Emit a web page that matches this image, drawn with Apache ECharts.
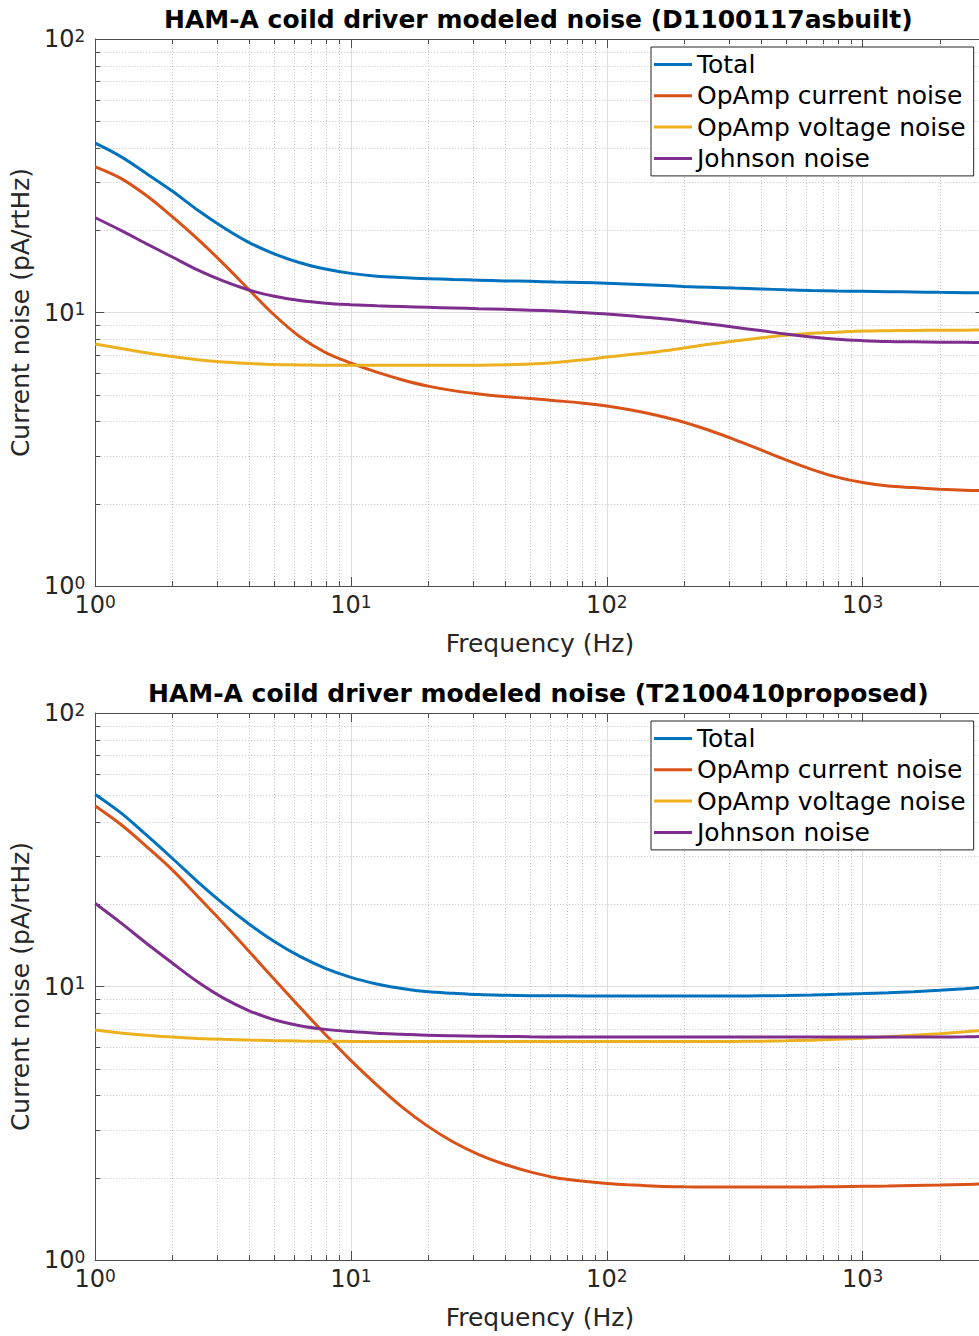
<!DOCTYPE html>
<html>
<head>
<meta charset="utf-8">
<script src="https://cdn.jsdelivr.net/npm/echarts@6/dist/echarts.min.js"></script>
<style>
  html, body { margin: 0; padding: 0; overflow: hidden; background: #ffffff; }
  #chart { width: 1000px; height: 1336px; }
</style>
</head>
<body>
<div id="chart"></div>
<script>
// Frequency points (Hz), ten per decade, shared by every curve
const freqHz = [1, 1.26, 1.58, 2, 2.51, 3.16, 3.98, 5.01, 6.31, 7.94,
                10, 12.6, 15.8, 20, 25.1, 31.6, 39.8, 50.1, 63.1, 79.4,
                100, 126, 158, 200, 251, 316, 398, 501, 631, 794,
                1000, 1260, 1580, 2000, 2510, 3160];

// D1100117 as built (pA/rtHz)
const asbuiltTotal   = [41.6, 37.15, 32.3, 27.8, 23.7, 20.5, 18.05, 16.39, 15.2, 14.42,
                        13.9, 13.58, 13.42, 13.3, 13.2, 13.13, 13.05, 13.0, 12.93, 12.87,
                        12.8, 12.69, 12.58, 12.45, 12.37, 12.28, 12.2, 12.1, 12.03, 11.98,
                        11.95, 11.92, 11.89, 11.85, 11.82, 11.79];
const asbuiltCurrent = [34.1, 30.94, 26.82, 22.41, 18.58, 15.12, 12.15, 9.79, 8.15, 7.14,
                        6.53, 6.05, 5.68, 5.38, 5.18, 5.04, 4.93, 4.85, 4.76, 4.67,
                        4.55, 4.39, 4.2, 3.97, 3.71, 3.43, 3.15, 2.89, 2.67, 2.5,
                        2.39, 2.32, 2.29, 2.26, 2.24, 2.23];
const asbuiltVoltage = [7.67, 7.39, 7.13, 6.9, 6.72, 6.59, 6.51, 6.45, 6.43, 6.41,
                        6.41, 6.41, 6.41, 6.41, 6.41, 6.42, 6.44, 6.48, 6.57, 6.7,
                        6.87, 7.03, 7.19, 7.41, 7.65, 7.87, 8.07, 8.26, 8.39, 8.47,
                        8.55, 8.58, 8.6, 8.61, 8.62, 8.63];
const asbuiltJohnson = [22.2, 19.96, 17.87, 15.96, 14.32, 13.04, 12.09, 11.46, 11.06, 10.82,
                        10.68, 10.58, 10.51, 10.445, 10.385, 10.325, 10.27, 10.2, 10.12, 10.01,
                        9.87, 9.7, 9.53, 9.31, 9.08, 8.83, 8.59, 8.34, 8.13, 7.98,
                        7.89, 7.83, 7.81, 7.79, 7.78, 7.77];

// T2100410 proposed (pA/rtHz)
const proposedTotal   = [50.4, 43.15, 35.89, 29.44, 24.18, 20.09, 16.96, 14.6, 12.88, 11.65,
                         10.8, 10.22, 9.83, 9.56, 9.44, 9.34, 9.29, 9.26, 9.245, 9.24,
                         9.235, 9.235, 9.235, 9.235, 9.235, 9.235, 9.25, 9.27, 9.31, 9.36,
                         9.42, 9.49, 9.57, 9.68, 9.82, 9.98];
const proposedCurrent = [45.7, 39.1, 32.6, 26.7, 21.4, 17.06, 13.49, 10.62, 8.39, 6.68,
                         5.36, 4.37, 3.63, 3.08, 2.7, 2.43, 2.24, 2.1, 2.0, 1.945,
                         1.905, 1.88, 1.862, 1.853, 1.849, 1.847, 1.847, 1.847, 1.849, 1.854,
                         1.86, 1.865, 1.872, 1.88, 1.89, 1.9];
const proposedVoltage = [6.93, 6.76, 6.63, 6.53, 6.46, 6.41, 6.37, 6.34, 6.32, 6.305,
                         6.3, 6.29, 6.29, 6.29, 6.29, 6.29, 6.29, 6.29, 6.29, 6.29,
                         6.29, 6.29, 6.29, 6.29, 6.29, 6.3, 6.31, 6.33, 6.36, 6.41,
                         6.47, 6.55, 6.63, 6.72, 6.83, 6.95];
const proposedJohnson = [20.1, 17.08, 14.42, 12.19, 10.41, 9.09, 8.17, 7.56, 7.19, 6.97,
                         6.84, 6.75, 6.69, 6.63, 6.6, 6.58, 6.57, 6.55, 6.54, 6.54,
                         6.54, 6.54, 6.54, 6.54, 6.54, 6.54, 6.54, 6.54, 6.54, 6.54,
                         6.54, 6.54, 6.54, 6.54, 6.55, 6.57];

const seriesNames = ['Total', 'OpAmp current noise', 'OpAmp voltage noise', 'Johnson noise'];
const seriesColors = ['#0072BD', '#D95319', '#EDB120', '#7E2F8E'];

const panelTitles = [
  'HAM-A coild driver modeled noise (D1100117asbuilt)',
  'HAM-A coild driver modeled noise (T2100410proposed)'
];
const xAxisTitle = 'Frequency (Hz)';
const yAxisTitle = 'Current noise (pA/rtHz)';

const xRange = [1, 3000];
const yRange = [1, 100];

const FONT = '"DejaVu Sans", sans-serif';
const AXIS_COLOR = '#4d4d4d';
const TEXT_COLOR = '#262626';
const MAJOR_GRID = '#dedede';
const MINOR_GRID = '#c4c4c4';

// minor tick positions (2..9 times each decade) inside a range
function minorTicks(lo, hi) {
  const out = [];
  for (let d = lo; d < hi; d *= 10) {
    for (let k = 2; k <= 9; k++) {
      const v = k * d;
      if (v < hi) out.push(v);
    }
  }
  return out;
}
const minorX = minorTicks(xRange[0], xRange[1]);
const minorY = minorTicks(yRange[0], yRange[1]);

function decadeLabel(v) {
  const lg = Math.log10(v);
  const e = Math.round(lg);
  if (Math.abs(lg - e) > 1e-6) return '';
  return '{b|10}{s|' + e + '}';
}

const tickRich = {
  b: { fontFamily: FONT, fontSize: 24, lineHeight: 24, color: TEXT_COLOR, padding: [8, 0, 0, 0], verticalAlign: 'bottom' },
  s: { fontFamily: FONT, fontSize: 17, lineHeight: 17, color: TEXT_COLOR, verticalAlign: 'top' }
};

const panelTops = [39, 713];
const plotLeft = 92;
const plotWidth = 892.6;
const plotHeight = 547;

const grids = panelTops.map(t => ({ left: plotLeft, top: t, width: plotWidth, height: plotHeight, show: false }));

function mainX(gridIndex) {
  return {
    type: 'log', logBase: 10, gridIndex, min: xRange[0], max: xRange[1], interval: 1,
    position: 'bottom',
    name: xAxisTitle, nameLocation: 'middle', nameGap: 45,
    nameTextStyle: { fontFamily: FONT, fontSize: 25, color: TEXT_COLOR },
    axisLine: { show: true, lineStyle: { color: AXIS_COLOR, width: 1 } },
    axisTick: { show: true, inside: true, length: 9, lineStyle: { color: AXIS_COLOR } },
    axisLabel: { show: true, interval: 0, margin: 7, formatter: decadeLabel, rich: tickRich, showMaxLabel: true, showMinLabel: true },
    splitLine: { show: true, lineStyle: { color: MAJOR_GRID, width: 1 } }
  };
}
function topX(gridIndex) {
  return {
    type: 'log', logBase: 10, gridIndex, min: xRange[0], max: xRange[1], interval: 1,
    position: 'top',
    axisLine: { show: true, lineStyle: { color: AXIS_COLOR, width: 1 } },
    axisTick: { show: true, inside: true, length: 9, lineStyle: { color: AXIS_COLOR } },
    axisLabel: { show: false },
    splitLine: { show: false }
  };
}
function mainY(gridIndex) {
  return {
    type: 'log', logBase: 10, gridIndex, min: yRange[0], max: yRange[1], interval: 1,
    position: 'left',
    name: yAxisTitle, nameLocation: 'middle', nameGap: 50, nameRotate: 90,
    nameTextStyle: { fontFamily: FONT, fontSize: 25, color: TEXT_COLOR },
    axisLine: { show: true, lineStyle: { color: AXIS_COLOR, width: 1 } },
    axisTick: { show: true, inside: true, length: 9, lineStyle: { color: AXIS_COLOR } },
    axisLabel: { show: true, interval: 0, margin: 10, formatter: decadeLabel, rich: tickRich, showMaxLabel: true, showMinLabel: true },
    splitLine: { show: true, lineStyle: { color: MAJOR_GRID, width: 1 } }
  };
}
function rightY(gridIndex) {
  return {
    type: 'log', logBase: 10, gridIndex, min: yRange[0], max: yRange[1], interval: 1,
    position: 'right',
    axisLine: { show: true, lineStyle: { color: AXIS_COLOR, width: 1 } },
    axisTick: { show: true, inside: true, length: 9, lineStyle: { color: AXIS_COLOR } },
    axisLabel: { show: false },
    splitLine: { show: false }
  };
}

// dotted minor grid lines with short inward ticks on both edges
function minorXItem(params, api) {
  const cs = params.coordSys;
  const x = Math.round(api.coord([api.value(0), api.value(1)])[0]) + 0.5;
  const top = cs.y, bottom = cs.y + cs.height;
  return { type: 'group', children: [
    { type: 'line', shape: { x1: x, y1: top, x2: x, y2: bottom }, style: { stroke: MINOR_GRID, lineWidth: 1, lineDash: [1, 2] } },
    { type: 'line', shape: { x1: x, y1: bottom, x2: x, y2: bottom - 5 }, style: { stroke: AXIS_COLOR, lineWidth: 1 } },
    { type: 'line', shape: { x1: x, y1: top, x2: x, y2: top + 5 }, style: { stroke: AXIS_COLOR, lineWidth: 1 } }
  ]};
}
function minorYItem(params, api) {
  const cs = params.coordSys;
  const y = Math.round(api.coord([api.value(0), api.value(1)])[1]) + 0.5;
  const left = cs.x, right = cs.x + cs.width;
  return { type: 'group', children: [
    { type: 'line', shape: { x1: left, y1: y, x2: right, y2: y }, style: { stroke: MINOR_GRID, lineWidth: 1, lineDash: [1, 2] } },
    { type: 'line', shape: { x1: left, y1: y, x2: left + 5, y2: y }, style: { stroke: AXIS_COLOR, lineWidth: 1 } },
    { type: 'line', shape: { x1: right, y1: y, x2: right - 5, y2: y }, style: { stroke: AXIS_COLOR, lineWidth: 1 } }
  ]};
}

const panelData = [
  [asbuiltTotal, asbuiltCurrent, asbuiltVoltage, asbuiltJohnson],
  [proposedTotal, proposedCurrent, proposedVoltage, proposedJohnson]
];

const xAxes = [], yAxes = [], series = [], legends = [], graphics = [];
panelTops.forEach((t, g) => {
  xAxes.push(mainX(g), topX(g));
  yAxes.push(mainY(g), rightY(g));
  const xi = 2 * g, yi = 2 * g;
  series.push({
    type: 'custom', xAxisIndex: xi, yAxisIndex: yi, silent: true, clip: false, z: 1,
    renderItem: minorXItem, data: minorX.map(v => [v, yRange[0]])
  });
  series.push({
    type: 'custom', xAxisIndex: xi, yAxisIndex: yi, silent: true, clip: false, z: 1,
    renderItem: minorYItem, data: minorY.map(v => [xRange[0], v])
  });
  panelData[g].forEach((vals, k) => {
    series.push({
      name: seriesNames[k], type: 'line', xAxisIndex: xi, yAxisIndex: yi, z: 3,
      showSymbol: false, symbol: 'none', smooth: 0.35, clip: true,
      lineStyle: { color: seriesColors[k], width: 3 },
      itemStyle: { color: seriesColors[k] },
      data: freqHz.map((f, i) => [f, vals[i]])
    });
  });
  legends.push({
    data: seriesNames, orient: 'vertical', left: 651, top: t + 8,
    icon: 'rect', itemWidth: 38, itemHeight: 3, itemGap: 6.3,
    padding: [5, 8, 5, 3],
    backgroundColor: '#ffffff', borderColor: '#262626', borderWidth: 1,
    textStyle: { fontFamily: FONT, fontSize: 25, lineHeight: 25, color: '#000000' },
    selectedMode: false
  });
  graphics.push({
    type: 'text', x: plotLeft + plotWidth / 2, y: t - 20, silent: true,
    style: { text: panelTitles[g], font: 'bold 25px ' + FONT, fill: '#000000',
             textAlign: 'center', textVerticalAlign: 'middle', align: 'center', verticalAlign: 'middle' }
  });
});

const chart = echarts.init(document.getElementById('chart'), null, { renderer: 'svg' });
chart.setOption({
  animation: false,
  backgroundColor: '#ffffff',
  grid: grids,
  xAxis: xAxes,
  yAxis: yAxes,
  legend: legends,
  graphic: graphics,
  series
});
</script>
</body>
</html>
